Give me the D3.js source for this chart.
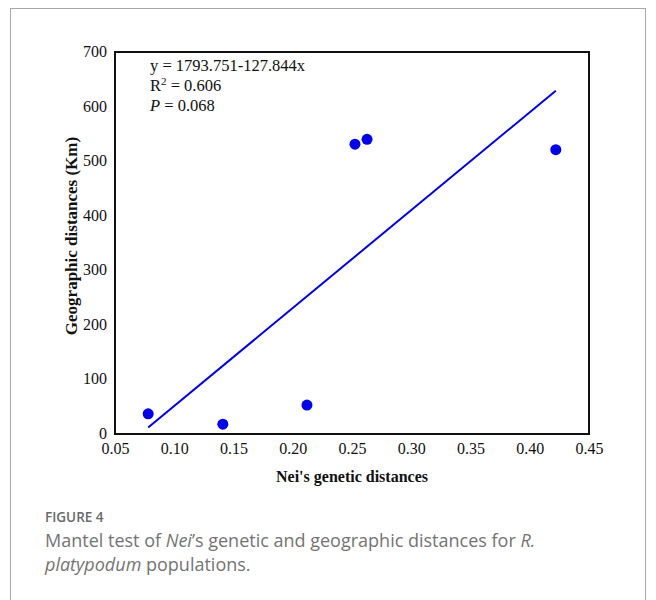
<!DOCTYPE html>
<html><head><meta charset="utf-8">
<script src="https://cdn.jsdelivr.net/npm/d3@7"></script>
<style>body{margin:0;background:#fff;}</style>
</head><body>
<script>
const geneticDist = [0.078, 0.141, 0.212, 0.2525, 0.2627, 0.422];
const geoDist = [37, 18, 53, 531, 540, 521];
const xTicks = [0.05, 0.10, 0.15, 0.20, 0.25, 0.30, 0.35, 0.40, 0.45];
const yTicks = [0, 100, 200, 300, 400, 500, 600, 700];
const fitSlope = 1793.751, fitIntercept = -127.844;
const fitRange = [0.078, 0.422];

const W = 656, H = 600;
const svg = d3.select("body").append("svg").attr("width", W).attr("height", H);
svg.append("rect").attr("x", 10.5).attr("y", 8.5).attr("width", 635).attr("height", 640)
  .attr("fill", "none").attr("stroke", "#aaa").attr("stroke-width", 1);

const L = 115, R = 589, T = 52, B = 434;
const x = d3.scaleLinear().domain([0.05, 0.45]).range([L, R]);
const y = d3.scaleLinear().domain([0, 700]).range([B, T]);
const serif = "'Liberation Serif', 'Times New Roman', serif";

const gx = svg.append("g").attr("transform", `translate(0,${B})`)
  .call(d3.axisBottom(x).tickValues(xTicks).tickFormat(d3.format(".2f")).tickSize(0).tickPadding(9));
const gy = svg.append("g").attr("transform", `translate(${L},0)`)
  .call(d3.axisLeft(y).tickValues(yTicks).tickSize(0).tickPadding(8));
[gx, gy].forEach(g => {
  g.select(".domain").remove();
  g.selectAll("text").attr("font-family", serif).attr("font-size", 16).attr("fill", "#111");
});
gy.selectAll(".tick text").attr("dy", "0.28em");
svg.append("rect").attr("x", L).attr("y", T).attr("width", R - L).attr("height", B - T)
  .attr("fill", "none").attr("stroke", "#111").attr("stroke-width", 2);

svg.append("line")
  .attr("x1", x(fitRange[0])).attr("y1", y(fitSlope * fitRange[0] + fitIntercept))
  .attr("x2", x(fitRange[1])).attr("y2", y(fitSlope * fitRange[1] + fitIntercept))
  .attr("stroke", "#0000ee").attr("stroke-width", 2);

svg.selectAll("circle.pt").data(geneticDist).enter().append("circle")
  .attr("cx", d => x(d)).attr("cy", (d, i) => y(geoDist[i])).attr("r", 5.5).attr("fill", "#0000ee");

const ann = svg.append("g").attr("font-family", serif).attr("font-size", 16.5).attr("fill", "#111");
ann.append("text").attr("x", 150).attr("y", 71).text("y = 1793.751-127.844x");
const r2 = ann.append("text").attr("x", 150).attr("y", 91);
r2.append("tspan").text("R");
r2.append("tspan").attr("dy", -6).attr("font-size", 11).text("2");
r2.append("tspan").attr("dy", 6).text(" = 0.606");
const p = ann.append("text").attr("x", 150).attr("y", 111);
p.append("tspan").attr("font-style", "italic").text("P");
p.append("tspan").text(" = 0.068");

svg.append("text").attr("x", 352).attr("y", 482).attr("text-anchor", "middle")
  .attr("font-family", serif).attr("font-weight", "bold").attr("font-size", 16).attr("fill", "#111")
  .text("Nei's genetic distances");
svg.append("text").attr("transform", `translate(77,236) rotate(-90)`).attr("text-anchor", "middle")
  .attr("font-family", serif).attr("font-weight", "bold").attr("font-size", 17).attr("fill", "#111")
  .text("Geographic distances (Km)");

const sans = "'Open Sans', 'Noto Sans', sans-serif";
svg.append("text").attr("x", 45).attr("y", 522).attr("font-family", sans).attr("font-size", 13.5)
  .attr("font-weight", 600).attr("fill", "#6a6a6a").text("FIGURE 4");
const c1 = svg.append("text").attr("x", 45).attr("y", 547).attr("font-family", sans).attr("font-size", 18)
  .attr("fill", "#747474").attr("font-weight", 400);
c1.append("tspan").text("Mantel test of ");
c1.append("tspan").attr("font-style", "italic").text("Nei");
c1.append("tspan").text("’s genetic and geographic distances for ");
c1.append("tspan").attr("font-style", "italic").text("R.");
const c2 = svg.append("text").attr("x", 45).attr("y", 571).attr("font-family", sans).attr("font-size", 18)
  .attr("fill", "#747474").attr("font-weight", 400);
c2.append("tspan").attr("font-style", "italic").text("platypodum");
c2.append("tspan").text(" populations.");
</script>
</body></html>
